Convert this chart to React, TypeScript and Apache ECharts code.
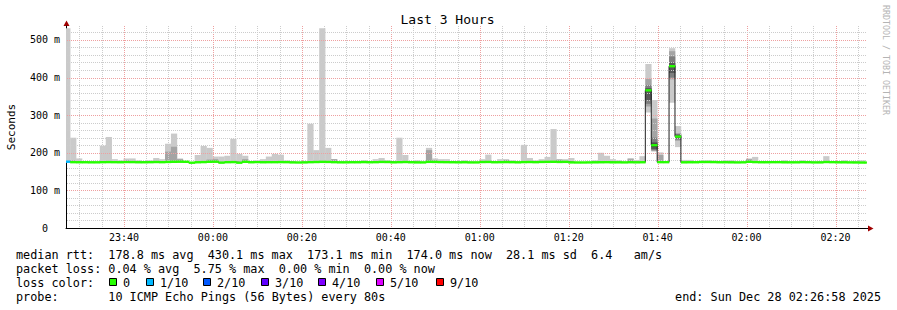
import React, { useEffect, useRef } from "react";
import * as echarts from "echarts";

// x values: seconds since graph start (23:26:58), 3 hours span
const SPAN_SEC = 10800;
const STEP_SEC = 80;
const FIRST_EDGE_SEC = 56;
const Y_MAX = 537;

const timeLabels = ["23:40", "00:00", "00:20", "00:40", "01:00", "01:20", "01:40", "02:00", "02:20"];
const timeLabelSec = [782, 1982, 3182, 4382, 5582, 6782, 7982, 9182, 10382];
const yTicks = [0, 100, 200, 300, 400, 500];
const yTickLabels = ["0\u00a0\u00a0", "100 m", "200 m", "300 m", "400 m", "500 m"];

// median rtt (ms) per 80 s step
const median = [
  176.2, 175.0, 174.8, 174.8, 174.6, 174.6, 175.0, 175.2, 175.0, 174.8,
  175.0, 175.2, 174.8, 174.8, 175.0, 175.4, 175.0, 175.6, 176.0, 176.2,
  176.0, 173.6, 174.8, 175.2, 176.0, 176.2, 173.8, 175.0, 175.2, 173.6,
  176.0, 174.8, 175.0, 174.8, 175.0, 175.0, 175.2, 175.0, 174.4, 174.2,
  174.4, 175.0, 175.4, 175.8, 175.6, 175.0, 174.6, 174.6, 174.8, 174.8,
  175.2, 174.8, 175.0, 175.6, 175.4, 174.6, 175.0, 175.4, 174.8, 174.4,
  174.4, 175.8, 175.6, 175.2, 175.0, 174.8, 174.6, 174.8, 174.4, 174.4,
  175.4, 175.6, 174.8, 175.0, 175.2, 175.0, 174.6, 175.2, 175.4, 175.0,
  175.6, 175.8, 176.0, 175.6, 175.8, 174.4, 174.2, 174.2, 174.4, 174.6,
  174.8, 175.0, 174.6, 174.6, 174.4, 174.8, 174.6, 174.8, 366.0, 220.0,
  175.0, 175.0, 430.1, 243.0, 174.6, 174.8, 174.8, 175.4, 175.4, 175.2,
  174.8, 174.8, 174.6, 174.4, 174.6, 176.0, 175.2, 174.8, 174.8, 175.0,
  175.0, 174.6, 174.6, 174.6, 175.0, 174.8, 174.4, 174.4, 175.4, 175.0,
  174.6, 174.6, 174.4, 174.2, 174.0, 174.0,
];

// highest ping per step (top of the light smoke), 0 = no visible smoke
const smokeMax = [
  531, 240, 185, 177, 0, 0, 219, 242, 183, 180,
  185, 185, 180, 178, 180, 186, 183, 224, 251, 185,
  178, 0, 194, 218, 213, 190, 190, 192, 237, 197,
  192, 178, 180, 183, 190, 197, 195, 180, 177, 0,
  178, 277, 207, 531, 213, 183, 0, 0, 177, 0,
  180, 177, 183, 186, 180, 178, 240, 194, 178, 180,
  0, 213, 185, 183, 183, 178, 177, 180, 0, 0,
  183, 195, 178, 183, 183, 180, 0, 221, 186, 180,
  183, 189, 263, 183, 183, 186, 0, 0, 0, 180,
  200, 192, 183, 180, 0, 186, 181, 191, 0, 0,
  201, 0, 0, 0, 181, 181, 0, 179, 180, 179,
  0, 180, 180, 0, 0, 185, 189, 0, 178, 0,
  178, 180, 0, 0, 180, 0, 0, 178, 191, 0,
  178, 180, 0, 178, 180, 0,
];

// second highest ping (top of the darker smoke), 0 = none
const smokeMid = [
  0, 180, 0, 0, 0, 0, 0, 0, 0, 0,
  180, 0, 0, 0, 0, 0, 0, 203, 216, 183,
  0, 0, 0, 0, 182, 183, 0, 0, 0, 0,
  183, 0, 0, 0, 0, 0, 0, 0, 0, 0,
  0, 0, 0, 0, 0, 183, 0, 0, 0, 0,
  0, 0, 0, 0, 0, 0, 0, 0, 0, 0,
  0, 207, 180, 0, 0, 0, 0, 0, 0, 0,
  0, 0, 0, 0, 181, 0, 0, 0, 0, 0,
  0, 0, 0, 182, 0, 0, 0, 0, 0, 0,
  0, 0, 0, 0, 0, 183, 0, 0, 0, 0,
  194, 0, 0, 0, 0, 0, 0, 0, 0, 0,
  0, 0, 0, 0, 0, 183, 0, 0, 0, 0,
  0, 0, 0, 0, 0, 0, 0, 0, 0, 0,
  0, 0, 0, 0, 0, 0,
];

// packet loss (x/10) per step
const lossTenths = [
  1, 0, 0, 0, 0, 0, 0, 0, 0, 0,
  0, 0, 0, 0, 0, 0, 0, 0, 0, 0,
  0, 0, 0, 0, 0, 0, 0, 0, 0, 0,
  0, 0, 0, 0, 0, 0, 0, 0, 0, 0,
  0, 0, 0, 0, 0, 0, 0, 0, 0, 0,
  0, 0, 0, 0, 0, 0, 0, 0, 0, 0,
  0, 0, 0, 0, 0, 0, 0, 0, 0, 0,
  0, 0, 0, 0, 0, 0, 0, 0, 0, 0,
  0, 0, 0, 0, 0, 0, 0, 0, 0, 0,
  0, 0, 0, 0, 0, 0, 0, 0, 0, 0,
  0, 0, 0, 0, 0, 0, 0, 0, 0, 0,
  0, 0, 0, 0, 0, 0, 0, 0, 0, 0,
  0, 0, 0, 0, 0, 0, 0, 0, 0, 0,
  0, 0, 0, 0, 0, 0,
];

// fully visible smoke of the latency spikes: the 10 sorted pings of each step
const spikeBins = [98, 99, 102, 103];
const spikePings = [
  [307, 323, 330, 340, 364, 368, 372, 380, 396, 436],
  [203, 205, 207, 210, 216, 224, 228, 240, 291, 340],
  [333, 395, 400, 412, 428, 432, 440, 456, 470, 478],
  [215, 232, 235, 238, 242, 244, 248, 250, 252, 271],
];

const lossLegend = ["0", "1/10", "2/10", "3/10", "4/10", "5/10", "9/10"];
const lossThreshold = [0, 1, 2, 3, 4, 5, 9];
const lossColors = ["#26ff00", "#00b8ff", "#0059ff", "#5e00ff", "#7e00ff", "#dd00ff", "#ff0000"];
const smokeShades = ["#cacaca", "#a4a4a4", "#7e7e7e", "#585858", "#323232"];

const rttStats = ["median rtt:", "178.8 ms avg", "430.1 ms max", "173.1 ms min", "174.0 ms now", "28.1 ms sd", "6.4", "am/s"];
const lossStats = ["packet loss:", "0.04 % avg", "5.75 % max", "0.00 % min", "0.00 % now"];
const probeInfo = ["probe:", "10 ICMP Echo Pings (56 Bytes) every 80s"];
const endInfo = "end: Sun Dec 28 02:26:58 2025";
const chartTitle = "Last 3 Hours";
const yName = "Seconds";
const watermark = "RRDTOOL / TOBI OETIKER";

// layout (legend text columns on a monospace grid)
const ADV = 7.1;
const LEFT = 16;
const rttCol = [0, 13, 27, 41, 55, 69, 81, 87];
const lossCol = [0, 13, 25, 37, 49];
const probeCol = [0, 13];
const boxX = [109, 146, 203, 261, 318, 376, 436];
const rowY = [254.5, 268.5, 282.5, 296.5];
const LEGEND_FONT = 11.8;

const MONO = '"DejaVu Sans Mono", monospace';
const GRID_MINOR = "#cccccc";
const GRID_MAJOR = "#eea0a0";

const binStart = (k: number) => (k === 0 ? 0 : FIRST_EDGE_SEC + STEP_SEC * (k - 1));
const binEnd = (k: number) => Math.min(FIRST_EDGE_SEC + STEP_SEC * k, SPAN_SEC);
const lossColor = (l: number) => {
  let idx = 0;
  lossThreshold.forEach((t, i) => {
    if (l >= t) idx = i;
  });
  return lossColors[idx];
};

export default function App() {
  const ref = useRef<HTMLDivElement>(null);
  useEffect(() => {
    if (!ref.current) return;
    const chart = echarts.init(ref.current, undefined, { renderer: "svg" });

    const binData = median.map((m, k) => [k, binStart(k), binEnd(k), m]);
    const stepData: number[][] = [];
    median.forEach((m, k) => {
      stepData.push([binStart(k), m]);
      stepData.push([binEnd(k), m]);
    });
    const vGrid: number[][] = [];
    for (let s = 182; s < SPAN_SEC; s += 300) vGrid.push([s, 0, timeLabelSec.includes(s) ? 1 : 0]);
    const hGrid: number[][] = [];
    for (let v = 20; v < Y_MAX; v += 20) hGrid.push([0, v, v % 100 === 0 ? 1 : 0]);

    const text = (t: string, x: number, y: number, extra: any = {}) => ({
      type: "text",
      x,
      y,
      silent: true,
      style: {
        text: t,
        fontFamily: MONO,
        fontSize: LEGEND_FONT,
        fill: "#000",
        align: "left",
        verticalAlign: "middle",
        ...extra,
      },
    });
    const colX = (c: number) => LEFT + c * ADV;

    const graphics: any[] = [
      text(chartTitle, 447.5, 19.5, { fontSize: 13, align: "center" }),
      { ...text(yName, 11, 127, { fontSize: 11, align: "center" }), rotation: Math.PI / 2 },
      { ...text(watermark, 886, 60, { fontSize: 8.3, align: "center", fill: "#b4b4b4" }), rotation: -Math.PI / 2 },
      { type: "line", silent: true, shape: { x1: 866.5, y1: 228.5, x2: 869, y2: 228.5 }, style: { stroke: "#000", lineWidth: 1 } },
      { type: "line", silent: true, shape: { x1: 66.5, y1: 26, x2: 66.5, y2: 24 }, style: { stroke: "#000", lineWidth: 1 } },
      { type: "polygon", silent: true, shape: { points: [[66.5, 20.5], [63.5, 26], [69.5, 26]] }, style: { fill: "#a00000" } },
      { type: "polygon", silent: true, shape: { points: [[873.5, 228.5], [868, 225.5], [868, 231.5]] }, style: { fill: "#a00000" } },
    ];
    rttStats.forEach((t, i) => graphics.push(text(t, colX(rttCol[i]), rowY[0])));
    lossStats.forEach((t, i) => graphics.push(text(t, colX(lossCol[i]), rowY[1])));
    graphics.push(text("loss color:", LEFT, rowY[2]));
    lossLegend.forEach((t, i) => {
      graphics.push({
        type: "rect",
        silent: true,
        shape: { x: boxX[i] + 0.5, y: rowY[2] - 4, width: 7, height: 7 },
        style: { fill: lossColors[i], stroke: "#000", lineWidth: 1 },
      });
      graphics.push(text(t, boxX[i] + 14, rowY[2]));
    });
    probeInfo.forEach((t, i) => graphics.push(text(t, colX(probeCol[i]), rowY[3])));
    graphics.push(text(endInfo, 881, rowY[3], { align: "right" }));

    const option: any = {
      animation: false,
      backgroundColor: "#ffffff",
      grid: { left: 66, top: 26, width: 800.5, height: 202, containLabel: false, outerBoundsMode: "none" },
      xAxis: {
        type: "value",
        min: 0,
        max: SPAN_SEC,
        axisLine: { show: true, lineStyle: { color: "#000", width: 1 } },
        axisTick: { show: false },
        splitLine: { show: false },
        axisLabel: {
          customValues: timeLabelSec,
          formatter: (v: number) => {
            const i = timeLabelSec.indexOf(v);
            return i >= 0 ? timeLabels[i] : "";
          },
          fontFamily: MONO,
          fontSize: 10,
          color: "#000",
          margin: 4,
        },
      },
      yAxis: {
        type: "value",
        min: 0,
        max: Y_MAX,
        interval: 100,
        axisLine: { show: true, lineStyle: { color: "#000", width: 1 } },
        axisTick: { show: false },
        splitLine: { show: false },
        axisLabel: {
          customValues: yTicks,
          formatter: (v: number) => {
            const i = yTicks.indexOf(v);
            return i >= 0 ? yTickLabels[i] : "";
          },
          fontFamily: MONO,
          fontSize: 10,
          color: "#000",
          margin: 6,
        },
      },
      series: [
        {
          type: "custom",
          name: "smoke",
          z: 1,
          silent: true,
          data: binData,
          encode: { x: [1, 2], y: 3 },
          renderItem: (_p: any, api: any) => {
            const k = api.value(0);
            const t0 = api.value(1);
            const t1 = api.value(2);
            const bands: any[] = [];
            const si = spikeBins.indexOf(k);
            if (si >= 0) {
              const p = spikePings[si];
              for (let j = 0; j < 5; j++) bands.push([p[j], p[9 - j], smokeShades[j]]);
            } else {
              if (smokeMax[k] > 0) bands.push([median[k], smokeMax[k], smokeShades[0]]);
              if (smokeMid[k] > 0) bands.push([median[k], smokeMid[k], smokeShades[1]]);
            }
            return {
              type: "group",
              children: bands.map(([lo, hi, c]) => {
                const a = api.coord([t0, hi]);
                const b = api.coord([t1, lo]);
                return {
                  type: "rect",
                  shape: { x: a[0], y: a[1], width: b[0] - a[0] + 0.3, height: b[1] - a[1] },
                  style: { fill: c },
                };
              }),
            };
          },
        },
        {
          type: "custom",
          name: "vgrid",
          z: 2,
          silent: true,
          data: vGrid,
          encode: { x: 0, y: 1 },
          renderItem: (_p: any, api: any) => {
            const a = api.coord([api.value(0), 0]);
            const b = api.coord([api.value(0), Y_MAX]);
            const x = Math.round(a[0]) + 0.5;
            return {
              type: "line",
              shape: { x1: x, y1: a[1] - 1, x2: x, y2: b[1] },
              style: { stroke: api.value(2) ? GRID_MAJOR : GRID_MINOR, lineWidth: 1, lineDash: [1, 1] },
            };
          },
        },
        {
          type: "custom",
          name: "hgrid",
          z: 2,
          silent: true,
          data: hGrid,
          encode: { x: 0, y: 1 },
          renderItem: (_p: any, api: any) => {
            const a = api.coord([0, api.value(1)]);
            const b = api.coord([SPAN_SEC, api.value(1)]);
            const y = Math.round(a[1]) + 0.5;
            return {
              type: "line",
              shape: { x1: a[0] + 1, y1: y, x2: b[0], y2: y },
              style: { stroke: api.value(2) ? GRID_MAJOR : GRID_MINOR, lineWidth: 1, lineDash: [1, 1] },
            };
          },
        },
        {
          type: "line",
          name: "median",
          z: 3,
          silent: true,
          data: stepData,
          symbol: "none",
          lineStyle: { color: "#202020", width: 1 },
        },
        {
          type: "custom",
          name: "loss",
          z: 4,
          silent: true,
          data: binData,
          encode: { x: [1, 2], y: 3 },
          renderItem: (_p: any, api: any) => {
            const k = api.value(0);
            const a = api.coord([api.value(1), api.value(3)]);
            const b = api.coord([api.value(2), api.value(3)]);
            return {
              type: "rect",
              shape: { x: a[0], y: a[1] - 1.2, width: b[0] - a[0] + 0.3, height: 2.4 },
              style: { fill: lossColor(lossTenths[k]) },
            };
          },
        },
      ],
      graphic: graphics,
    };
    chart.setOption(option);
    return () => chart.dispose();
  }, []);
  return <div ref={ref} style={{ position: "fixed", left: 0, top: 0, width: 897, height: 310, background: "#fff" }} />;
}
